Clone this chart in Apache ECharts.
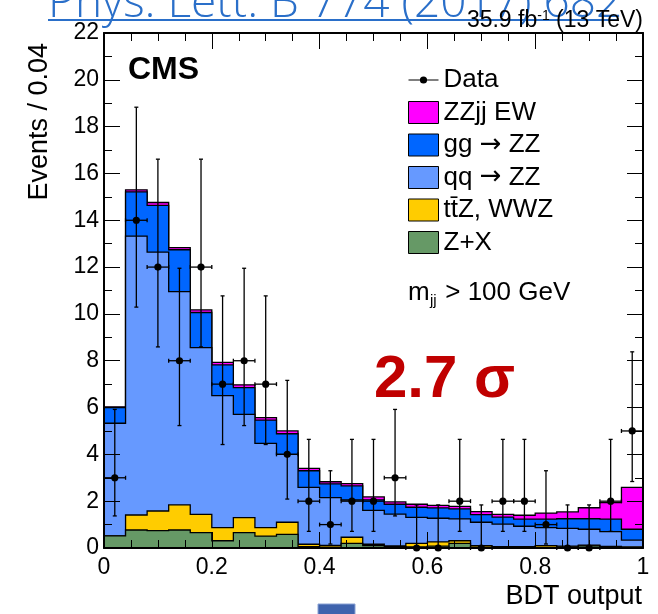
<!DOCTYPE html>
<html>
<head>
<meta charset="utf-8">
<script src="https://cdn.jsdelivr.net/npm/echarts@6/dist/echarts.min.js"></script>
<style>
  html, body { margin: 0; padding: 0; background: #ffffff; }
  #chart { width: 658px; height: 614px; }
</style>
</head>
<body>
<div id="chart"></div>
<script>
// BDT output distribution, 25 bins of width 0.04
const binEdges = [0, 0.04, 0.08, 0.12, 0.16, 0.2, 0.24, 0.28, 0.32, 0.36, 0.4, 0.44, 0.48,
  0.52, 0.56, 0.6, 0.64, 0.68, 0.72, 0.76, 0.8, 0.84, 0.88, 0.92, 0.96, 1];

// Observed events per bin and their asymmetric uncertainties
const dataCounts  = [3, 14, 12, 8, 12, 7, 8, 7, 4, 2, 1, 2, 2, 3, 0, 0, 2, 0, 2, 2, 1, 0, 0, 2, 5];
const dataErrLow  = [1.63, 3.71, 3.41, 2.77, 3.41, 2.58, 2.77, 2.58, 1.91, 1.29, 0.83, 1.29, 1.29,
  1.63, 0, 0, 1.29, 0, 1.29, 1.29, 0.83, 0, 0, 1.29, 2.16];
const dataErrHigh = [2.92, 4.83, 4.61, 3.95, 4.61, 3.77, 3.95, 3.77, 3.16, 2.64, 2.30, 2.64, 2.64,
  2.92, 1.84, 1.84, 2.64, 1.84, 2.64, 2.64, 2.30, 1.84, 1.84, 2.64, 3.38];

// Expected yields per process (stacked bottom to top)
const zxYield   = [0.52, 0.77, 0.74, 0.77, 0.66, 0.31, 0.66, 0.51, 0.58, 0.06, 0.04, 0.20, 0.10,
  0.06, 0.05, 0.08, 0.20, 0.04, 0.03, 0.03, 0.03, 0.05, 0.09, 0.03, 0.02];
const ttzYield  = [0.00, 0.64, 0.84, 1.07, 0.78, 0.56, 0.64, 0.36, 0.52, 0.10, 0.07, 0.26, 0.06,
  0.03, 0.15, 0.18, 0.11, 0.06, 0.03, 0.03, 0.07, 0.03, 0.03, 0.04, 0.03];
const qqzzYield = [4.81, 11.91, 11.06, 9.11, 7.12, 5.64, 4.41, 3.60, 2.90, 2.43, 2.04, 1.59, 1.45,
  1.36, 1.11, 1.01, 0.93, 1.00, 0.96, 0.87, 0.77, 0.76, 0.68, 0.63, 0.29];
const ggzzYield = [0.67, 1.89, 2.00, 1.79, 1.50, 1.31, 1.14, 0.99, 0.88, 0.71, 0.59, 0.60, 0.45,
  0.42, 0.43, 0.44, 0.43, 0.33, 0.30, 0.30, 0.36, 0.41, 0.45, 0.53, 0.46];
const ewYield   = [0.03, 0.09, 0.12, 0.09, 0.11, 0.11, 0.12, 0.11, 0.12, 0.10, 0.09, 0.10, 0.12,
  0.10, 0.13, 0.11, 0.11, 0.12, 0.12, 0.17, 0.26, 0.29, 0.47, 0.71, 1.79];

const processNames = ['Z+X', 'tt\u0304Z, WWZ', 'qq \u2192 ZZ', 'gg \u2192 ZZ', 'ZZjj EW'];
const processYields = [zxYield, ttzYield, qqzzYield, ggzzYield, ewYield];
const processColors = ['#669966', '#ffcc00', '#6699ff', '#0066ff', '#ff00ff'];

const FONT = '"Liberation Sans", Arial, Helvetica, sans-serif';

// Cumulative stack tops
const stackTops = [];
processYields.forEach((arr, k) => {
  stackTops.push(arr.map((v, i) => v + (k > 0 ? stackTops[k - 1][i] : 0)));
});

function stepRenderer(tops, color) {
  return function (params, api) {
    const pts = [api.coord([binEdges[0], 0])];
    for (let i = 0; i < tops.length; i++) {
      pts.push(api.coord([binEdges[i], tops[i]]));
      pts.push(api.coord([binEdges[i + 1], tops[i]]));
    }
    pts.push(api.coord([binEdges[binEdges.length - 1], 0]));
    return {
      type: 'polygon',
      shape: { points: pts },
      style: { fill: color, stroke: '#000', lineWidth: 1.3, lineJoin: 'miter' }
    };
  };
}

// Draw the tallest stack first so each lower layer paints over it
const histSeries = [];
for (let k = processNames.length - 1; k >= 0; k--) {
  histSeries.push({
    type: 'custom',
    name: processNames[k],
    xAxisIndex: 0,
    yAxisIndex: 0,
    clip: true,
    itemStyle: { color: processColors[k] },
    data: [[0, 0]],
    renderItem: stepRenderer(stackTops[k], processColors[k])
  });
}

const dataPoints = dataCounts.map((n, i) => [
  (binEdges[i] + binEdges[i + 1]) / 2, n, dataErrLow[i], dataErrHigh[i], binEdges[i], binEdges[i + 1]
]);

function dataRenderer(params, api) {
  const x = api.value(0), n = api.value(1);
  const lo = api.value(2), hi = api.value(3);
  const xl = api.value(4), xr = api.value(5);
  const c = api.coord([x, n]);
  const pL = api.coord([xl, n]), pR = api.coord([xr, n]);
  const pT = api.coord([x, n + hi]), pB = api.coord([x, n - lo]);
  const ls = { stroke: '#000', lineWidth: 1.3 };
  const cap = 2;
  const kids = [
    { type: 'line', shape: { x1: pL[0], y1: c[1], x2: pR[0], y2: c[1] }, style: ls },
    { type: 'line', shape: { x1: pL[0], y1: c[1] - cap, x2: pL[0], y2: c[1] + cap }, style: ls },
    { type: 'line', shape: { x1: pR[0], y1: c[1] - cap, x2: pR[0], y2: c[1] + cap }, style: ls },
    { type: 'line', shape: { x1: c[0], y1: pT[1], x2: c[0], y2: pB[1] }, style: ls },
    { type: 'line', shape: { x1: c[0] - cap, y1: pT[1], x2: c[0] + cap, y2: pT[1] }, style: ls },
    { type: 'circle', shape: { cx: c[0], cy: c[1], r: 3.6 }, style: { fill: '#000' } }
  ];
  if (lo > 0) {
    kids.push({ type: 'line', shape: { x1: c[0] - cap, y1: pB[1], x2: c[0] + cap, y2: pB[1] }, style: ls });
  }
  return { type: 'group', children: kids };
}

const axisLineStyle = { show: true, onZero: false, lineStyle: { color: '#000', width: 2 } };
const tickStyle = { color: '#000', width: 1 };

const chart = echarts.init(document.getElementById('chart'), null, { renderer: 'canvas' });
chart.setOption({
  animation: false,
  backgroundColor: '#ffffff',
  grid: { left: 104, top: 33, right: 15, bottom: 66, containLabel: false },
  xAxis: [
    {
      type: 'value', min: 0, max: 1, interval: 0.2, position: 'bottom', z: 5,
      axisLine: axisLineStyle,
      axisTick: { show: true, inside: true, length: 16, lineStyle: tickStyle },
      minorTick: { show: true, splitNumber: 4, length: 8, lineStyle: tickStyle },
      splitLine: { show: false },
      axisLabel: { color: '#000', fontSize: 23, fontFamily: FONT, margin: 8 }
    },
    {
      type: 'value', min: 0, max: 1, interval: 0.2, position: 'top', z: 5,
      axisLine: axisLineStyle,
      axisTick: { show: true, inside: true, length: 16, lineStyle: tickStyle },
      minorTick: { show: true, splitNumber: 4, length: 8, lineStyle: tickStyle },
      splitLine: { show: false },
      axisLabel: { show: false }
    }
  ],
  yAxis: [
    {
      type: 'value', min: 0, max: 22, interval: 2, position: 'left', z: 5,
      axisLine: axisLineStyle,
      axisTick: { show: true, inside: true, length: 16, lineStyle: tickStyle },
      minorTick: { show: true, splitNumber: 2, length: 8, lineStyle: tickStyle },
      splitLine: { show: false },
      axisLabel: { color: '#000', fontSize: 23, fontFamily: FONT, margin: 5 }
    },
    {
      type: 'value', min: 0, max: 22, interval: 2, position: 'right', z: 5,
      axisLine: axisLineStyle,
      axisTick: { show: true, inside: true, length: 16, lineStyle: tickStyle },
      minorTick: { show: true, splitNumber: 2, length: 8, lineStyle: tickStyle },
      splitLine: { show: false },
      axisLabel: { show: false }
    }
  ],
  legend: {
    orient: 'vertical',
    left: 408,
    top: 67,
    padding: 0,
    itemWidth: 30,
    itemHeight: 22,
    itemGap: 6.5,
    icon: 'rect',
    selectedMode: false,
    itemStyle: { borderColor: '#000', borderWidth: 1 },
    formatter: function (name) {
      return name.replace('\u2192', '{arr|\u2192}');
    },
    textStyle: {
      fontSize: 26, fontFamily: FONT, color: '#000',
      rich: { arr: { fontSize: 26, fontFamily: '"DejaVu Sans", sans-serif', color: '#000' } }
    },
    data: [
      {
        name: 'Data',
        icon: 'path://M0,3.4L30,3.4L30,4.6L0,4.6Z M11.4,4A3.6,3.6 0 1 1 18.6,4A3.6,3.6 0 1 1 11.4,4Z',
        itemStyle: { color: '#000', borderWidth: 0 }
      },
      'ZZjj EW', 'gg \u2192 ZZ', 'qq \u2192 ZZ', 'tt\u0304Z, WWZ', 'Z+X'
    ]
  },
  graphic: [
    // journal reference link at the page top
    {
      type: 'text', x: 48, y: 4, z: 20,
      style: { text: 'Phys. Lett. B 774 (2017) 682', fill: '#2a6fc9',
        font: '300 46px "Open Sans", ' + FONT, align: 'left', verticalAlign: 'middle' }
    },
    { type: 'line', z: 20, shape: { x1: 48, y1: 20, x2: 618, y2: 20 }, style: { stroke: '#2a6fc9', lineWidth: 2 } },
    {
      type: 'text', x: 643, y: 21, z: 21,
      style: {
        text: '35.9 fb{sup|-1} (13 TeV)', fill: '#000', align: 'right', verticalAlign: 'middle',
        font: '23px ' + FONT,
        rich: { sup: { fontSize: 14, fontFamily: FONT, verticalAlign: 'top', lineHeight: 23 } }
      }
    },
    {
      type: 'text', x: 128, y: 70, z: 20,
      style: { text: 'CMS', fill: '#000', font: 'bold 32px ' + FONT, align: 'left', verticalAlign: 'middle' }
    },
    { type: 'text', x: 408, y: 293, z: 20,
      style: { text: 'm', fill: '#000', font: '26px ' + FONT, align: 'left', verticalAlign: 'middle' } },
    { type: 'text', x: 430, y: 301, z: 20,
      style: { text: 'jj', fill: '#000', font: '15px ' + FONT, align: 'left', verticalAlign: 'middle' } },
    { type: 'text', x: 438, y: 293, z: 20,
      style: { text: ' > 100 GeV', fill: '#000', font: '26px ' + FONT, align: 'left', verticalAlign: 'middle' } },
    {
      type: 'text', x: 374, y: 380, z: 20,
      style: { text: '2.7 \u03c3', fill: '#c00000', font: 'bold 60px ' + FONT, align: 'left', verticalAlign: 'middle' }
    },
    {
      type: 'text', x: 642, y: 597, z: 20,
      style: { text: 'BDT output', fill: '#000', font: '27px ' + FONT, align: 'right', verticalAlign: 'middle' }
    },
    {
      type: 'text', x: 40, y: 43, rotation: Math.PI / 2, z: 20,
      style: { text: 'Events / 0.04', fill: '#000', font: '27px ' + FONT, align: 'right', verticalAlign: 'middle' }
    },
    {
      type: 'rect', z: 20, shape: { x: 318, y: 604, width: 37, height: 12 },
      style: { fill: '#3f63ad', stroke: '#8aa2d4', lineWidth: 1 }
    }
  ],
  series: histSeries.concat([{
    type: 'custom',
    name: 'Data',
    xAxisIndex: 0,
    yAxisIndex: 0,
    clip: false,
    itemStyle: { color: '#000' },
    encode: { x: 0, y: 1 },
    data: dataPoints,
    renderItem: dataRenderer
  }])
});
</script>
</body>
</html>
